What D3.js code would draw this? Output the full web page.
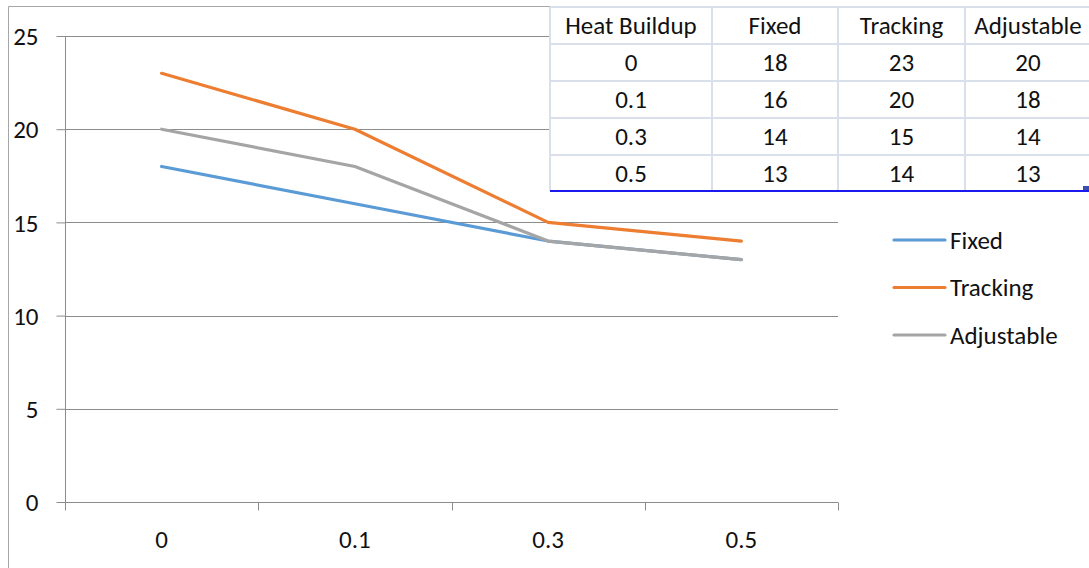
<!DOCTYPE html>
<html>
<head>
<meta charset="utf-8">
<script src="https://cdn.jsdelivr.net/npm/d3@7"></script>
<style>
  html, body { margin: 0; padding: 0; background: #fff; }
  svg { display: block; }
  text { font-family: Carlito, Lato, "Open Sans", sans-serif; fill: #111; }
</style>
</head>
<body>
<svg id="chart" width="1089" height="568"></svg>
<script>
// Heat buildup levels (categories) and the three mounting series
const categories = ["0", "0.1", "0.3", "0.5"];
const fixed = [18, 16, 14, 13];
const tracking = [23, 20, 15, 14];
const adjustable = [20, 18, 14, 13];
const yTicks = [0, 5, 10, 15, 20, 25];
const tableHeader = ["Heat Buildup", "Fixed", "Tracking", "Adjustable"];

const series = [
  { name: "Fixed", values: fixed, color: "#5B9BD5" },
  { name: "Tracking", values: tracking, color: "#ED7D31" },
  { name: "Adjustable", values: adjustable, color: "#A5A5A5" }
];

const FONT = "25px";
const svg = d3.select("#chart");

// outer chart frame (top and left edges visible)
svg.append("path")
  .attr("d", "M8.5,568 V6.5 H1089")
  .attr("fill", "none")
  .attr("stroke", "#a6a6a6")
  .attr("stroke-width", 1);

const plot = { left: 65, right: 838, top: 36, bottom: 502 };

const x = d3.scaleBand()
  .domain(categories)
  .range([plot.left, plot.right])
  .paddingInner(0).paddingOuter(0);

const y = d3.scaleLinear()
  .domain([0, 25])
  .range([plot.bottom, plot.top]);

// horizontal gridlines
svg.append("g")
  .selectAll("line")
  .data(yTicks.filter(d => d > 0))
  .join("line")
  .attr("x1", plot.left).attr("x2", plot.right)
  .attr("y1", d => Math.round(y(d)) + 0.5)
  .attr("y2", d => Math.round(y(d)) + 0.5)
  .attr("stroke", "#8c8c8c")
  .attr("stroke-width", 1);

// y axis
const yAxis = svg.append("g")
  .attr("transform", `translate(${plot.left + 0.5},0)`)
  .call(d3.axisLeft(y).tickValues(yTicks).tickSize(9).tickPadding(0).tickFormat(d3.format("d")));
yAxis.select(".domain").attr("stroke", "#8c8c8c").attr("d", `M0,${plot.top} V${plot.bottom + 8}`);
yAxis.selectAll(".tick line").attr("stroke", "#8c8c8c");
yAxis.selectAll(".tick text")
  .attr("x", -27)
  .attr("text-anchor", "end")
  .attr("dy", "0.35em")
  .style("font-size", FONT)
  .attr("fill", "#111");

// x axis
const xAxis = svg.append("g")
  .attr("transform", `translate(0,${plot.bottom + 0.5})`)
  .call(d3.axisBottom(x).tickSize(0).tickPadding(0));
xAxis.select(".domain").attr("stroke", "#8c8c8c").attr("d", `M${plot.left},0 H${plot.right}`);
xAxis.selectAll(".tick text")
  .attr("y", 37)
  .attr("dy", "0.35em")
  .style("font-size", FONT)
  .attr("fill", "#111");
// boundary tick marks between categories
const boundaries = categories.map(c => x(c)).concat([plot.right]);
xAxis.append("g").selectAll("line")
  .data(boundaries)
  .join("line")
  .attr("x1", d => Math.round(d) + 0.5).attr("x2", d => Math.round(d) + 0.5)
  .attr("y1", 0).attr("y2", 8)
  .attr("stroke", "#8c8c8c");

// series lines
const line = d3.line()
  .x((d, i) => x(categories[i]) + x.bandwidth() / 2)
  .y(d => y(d));

svg.append("g")
  .selectAll("path")
  .data(series)
  .join("path")
  .attr("d", d => line(d.values))
  .attr("fill", "none")
  .attr("stroke", d => d.color)
  .attr("stroke-width", 3.2)
  .attr("stroke-linejoin", "round")
  .attr("stroke-linecap", "round");

// legend
const legend = svg.append("g");
const legendY = d3.scalePoint().domain(series.map(s => s.name)).range([240, 335]);
const lg = legend.selectAll("g").data(series).join("g")
  .attr("transform", d => `translate(0,${legendY(d.name)})`);
lg.append("line")
  .attr("x1", 894).attr("x2", 945)
  .attr("y1", 0).attr("y2", 0)
  .attr("stroke", d => d.color)
  .attr("stroke-width", 3.2)
  .attr("stroke-linecap", "round");
lg.append("text")
  .attr("x", 950)
  .attr("dy", "0.35em")
  .style("font-size", FONT)
  .text(d => d.name);

// data table overlay
const colEdges = [550, 712, 838, 965, 1095];
const rowEdges = [7, 44, 81, 118, 155, 191];
const rows = [tableHeader].concat(categories.map((c, i) => [c, fixed[i], tracking[i], adjustable[i]]));

const table = svg.append("g");
table.append("rect")
  .attr("x", colEdges[0]).attr("y", rowEdges[0])
  .attr("width", colEdges[4] - colEdges[0]).attr("height", rowEdges[5] - rowEdges[0])
  .attr("fill", "#fff");
// grid of the table
table.append("g").selectAll("line")
  .data(rowEdges.slice(0, 5))
  .join("line")
  .attr("x1", colEdges[0]).attr("x2", colEdges[4])
  .attr("y1", d => d).attr("y2", d => d)
  .attr("stroke", "#d9dfeb").attr("stroke-width", 2);
table.append("g").selectAll("line")
  .data(colEdges.slice(0, 4))
  .join("line")
  .attr("x1", d => d).attr("x2", d => d)
  .attr("y1", rowEdges[0]).attr("y2", rowEdges[5])
  .attr("stroke", "#d9dfeb").attr("stroke-width", 2);
table.append("line")
  .attr("x1", colEdges[0]).attr("x2", colEdges[4])
  .attr("y1", rowEdges[5]).attr("y2", rowEdges[5])
  .attr("stroke", "#1a1aee").attr("stroke-width", 2);
table.append("rect")
  .attr("x", 1083).attr("y", 186).attr("width", 6).attr("height", 4)
  .attr("fill", "#3a4fb0");

rows.forEach((r, ri) => {
  table.append("g").selectAll("text")
    .data(r)
    .join("text")
    .attr("x", (d, ci) => ci === 3 ? 1028 : (colEdges[ci] + colEdges[ci + 1]) / 2)
    .attr("y", (rowEdges[ri] + rowEdges[ri + 1]) / 2)
    .attr("dy", "0.35em")
    .attr("text-anchor", "middle")
    .style("font-size", FONT)
    .attr("fill", "#1e1e1e")
    .text(d => d);
});
</script>
</body>
</html>
